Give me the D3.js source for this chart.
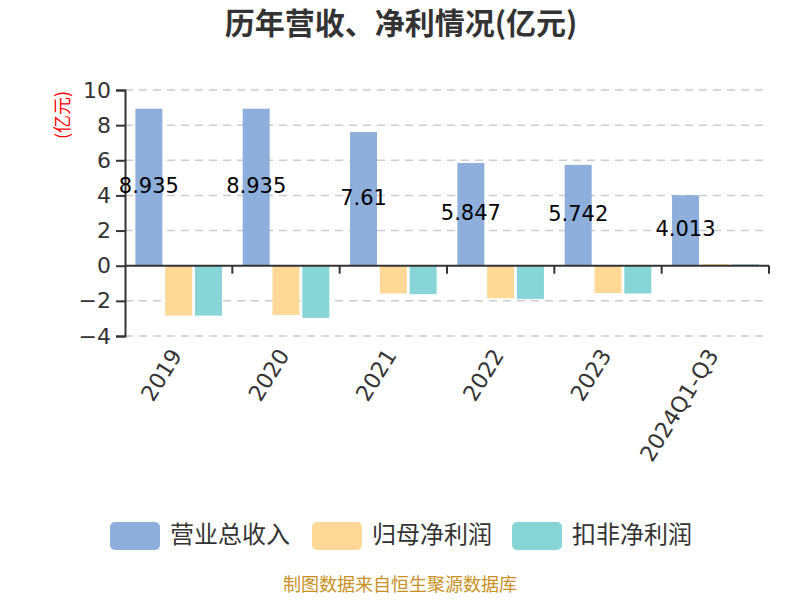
<!DOCTYPE html>
<html><head><meta charset="utf-8">
<script src="https://cdn.jsdelivr.net/npm/d3@7"></script>
<style>body{margin:0;background:#fff}svg{display:block}</style>
</head><body>
<svg id="c" width="800" height="600"></svg>
<script>
const categories = ["2019","2020","2021","2022","2023","2024Q1-Q3"];
const revenue = [8.935, 8.935, 7.61, 5.847, 5.742, 4.013];
const netProfit = [-2.84, -2.80, -1.58, -1.85, -1.55, 0.10];
const deductedProfit = [-2.84, -2.97, -1.62, -1.89, -1.58, 0.08];
const seriesNames = ["营业总收入","归母净利润","扣非净利润"];
const colors = ["#8eaedb","#fed896","#88d5d8"];
const yTicks = [-4,-2,0,2,4,6,8,10];

const font = "'Noto Sans CJK SC','Noto Sans',sans-serif";
const numFont = "'DejaVu Sans','Noto Sans CJK SC',sans-serif";
const svg = d3.select("#c");
const L = 125, R = 769, T = 90, B = 336;
const x = d3.scaleBand().domain(categories).range([L, R]);
const y = d3.scaleLinear().domain([-4, 10]).range([B, T]);
const series = [revenue, netProfit, deductedProfit];

// title
svg.append("text").attr("x", 401).attr("y", 34).attr("text-anchor","middle")
  .attr("font-family", font).attr("font-size", 30).attr("font-weight","bold").attr("fill","#333")
  .text("历年营收、净利情况(亿元)");

// y label
svg.append("text").attr("transform","translate(69,115) rotate(-90)").attr("text-anchor","middle")
  .attr("font-family", font).attr("font-size", 18).attr("fill","#f00").text("(亿元)");

// grid
svg.append("g").selectAll("line").data(yTicks.filter(d=>d!==0)).join("line")
  .attr("x1", L).attr("x2", R).attr("y1", d=>y(d)).attr("y2", d=>y(d))
  .attr("stroke","#ccc").attr("stroke-width",1.5).attr("stroke-dasharray","8,6");

// y axis
const yAxis = svg.append("g").attr("transform",`translate(${L},0)`)
  .call(d3.axisLeft(y).tickValues(yTicks).tickSize(9).tickPadding(5).tickFormat(d3.format("d")));
yAxis.select(".domain").attr("stroke","#333").attr("stroke-width",2);
yAxis.selectAll(".tick line").attr("stroke","#333").attr("stroke-width",2);
yAxis.selectAll(".tick text").attr("font-family", numFont).attr("font-size",22).attr("fill","#333");

// bars
const bw = 27, gap = 2.8;
const groupW = 3*bw + 2*gap;
series.forEach((vals, si) => {
  svg.append("g").selectAll("rect").data(vals).join("rect")
    .attr("x", (d,i)=> x(categories[i]) + x.bandwidth()/2 - groupW/2 + si*(bw+gap))
    .attr("width", bw)
    .attr("y", d => Math.min(y(d), y(0)))
    .attr("height", d => Math.abs(y(d)-y(0)))
    .attr("fill", colors[si]);
});

// x axis at zero
svg.append("line").attr("x1",L).attr("x2",R).attr("y1",y(0)).attr("y2",y(0))
  .attr("stroke","#333").attr("stroke-width",2);
const bounds = categories.map(c=>x(c)).concat([R]);
svg.append("g").selectAll("line").data(bounds.slice(1)).join("line")
  .attr("x1",d=>d).attr("x2",d=>d).attr("y1",y(0)).attr("y2",y(0)+8)
  .attr("stroke","#333").attr("stroke-width",2);

// x labels
svg.append("g").selectAll("text").data(categories).join("text")
  .attr("transform", d => `translate(${x(d)+x.bandwidth()/2-1},${B+16}) rotate(-58)`)
  .attr("text-anchor","end").attr("dominant-baseline","middle")
  .attr("font-family", numFont).attr("font-size",22).attr("fill","#333").text(d=>d);

// value labels on revenue
svg.append("g").selectAll("text").data(revenue).join("text")
  .attr("x",(d,i)=> x(categories[i]) + x.bandwidth()/2 - groupW/2 + bw/2)
  .attr("y", d => (y(d)+y(0))/2)
  .attr("text-anchor","middle").attr("dominant-baseline","middle")
  .attr("font-family", numFont).attr("font-size",21).attr("fill","#000").text(d=>d);

// legend
const legX = [110, 312, 512];
seriesNames.forEach((n,i)=>{
  svg.append("rect").attr("x",legX[i]).attr("y",522).attr("width",50).attr("height",28)
    .attr("rx",5).attr("fill",colors[i]);
  svg.append("text").attr("x",legX[i]+60).attr("y",536).attr("dominant-baseline","middle")
    .attr("font-family", font).attr("font-size",24).attr("fill","#333").text(n);
});

// footer
svg.append("text").attr("x",400).attr("y",591).attr("text-anchor","middle")
  .attr("font-family", font).attr("font-size",18).attr("fill","#c8901e")
  .text("制图数据来自恒生聚源数据库");
</script>
</body></html>
